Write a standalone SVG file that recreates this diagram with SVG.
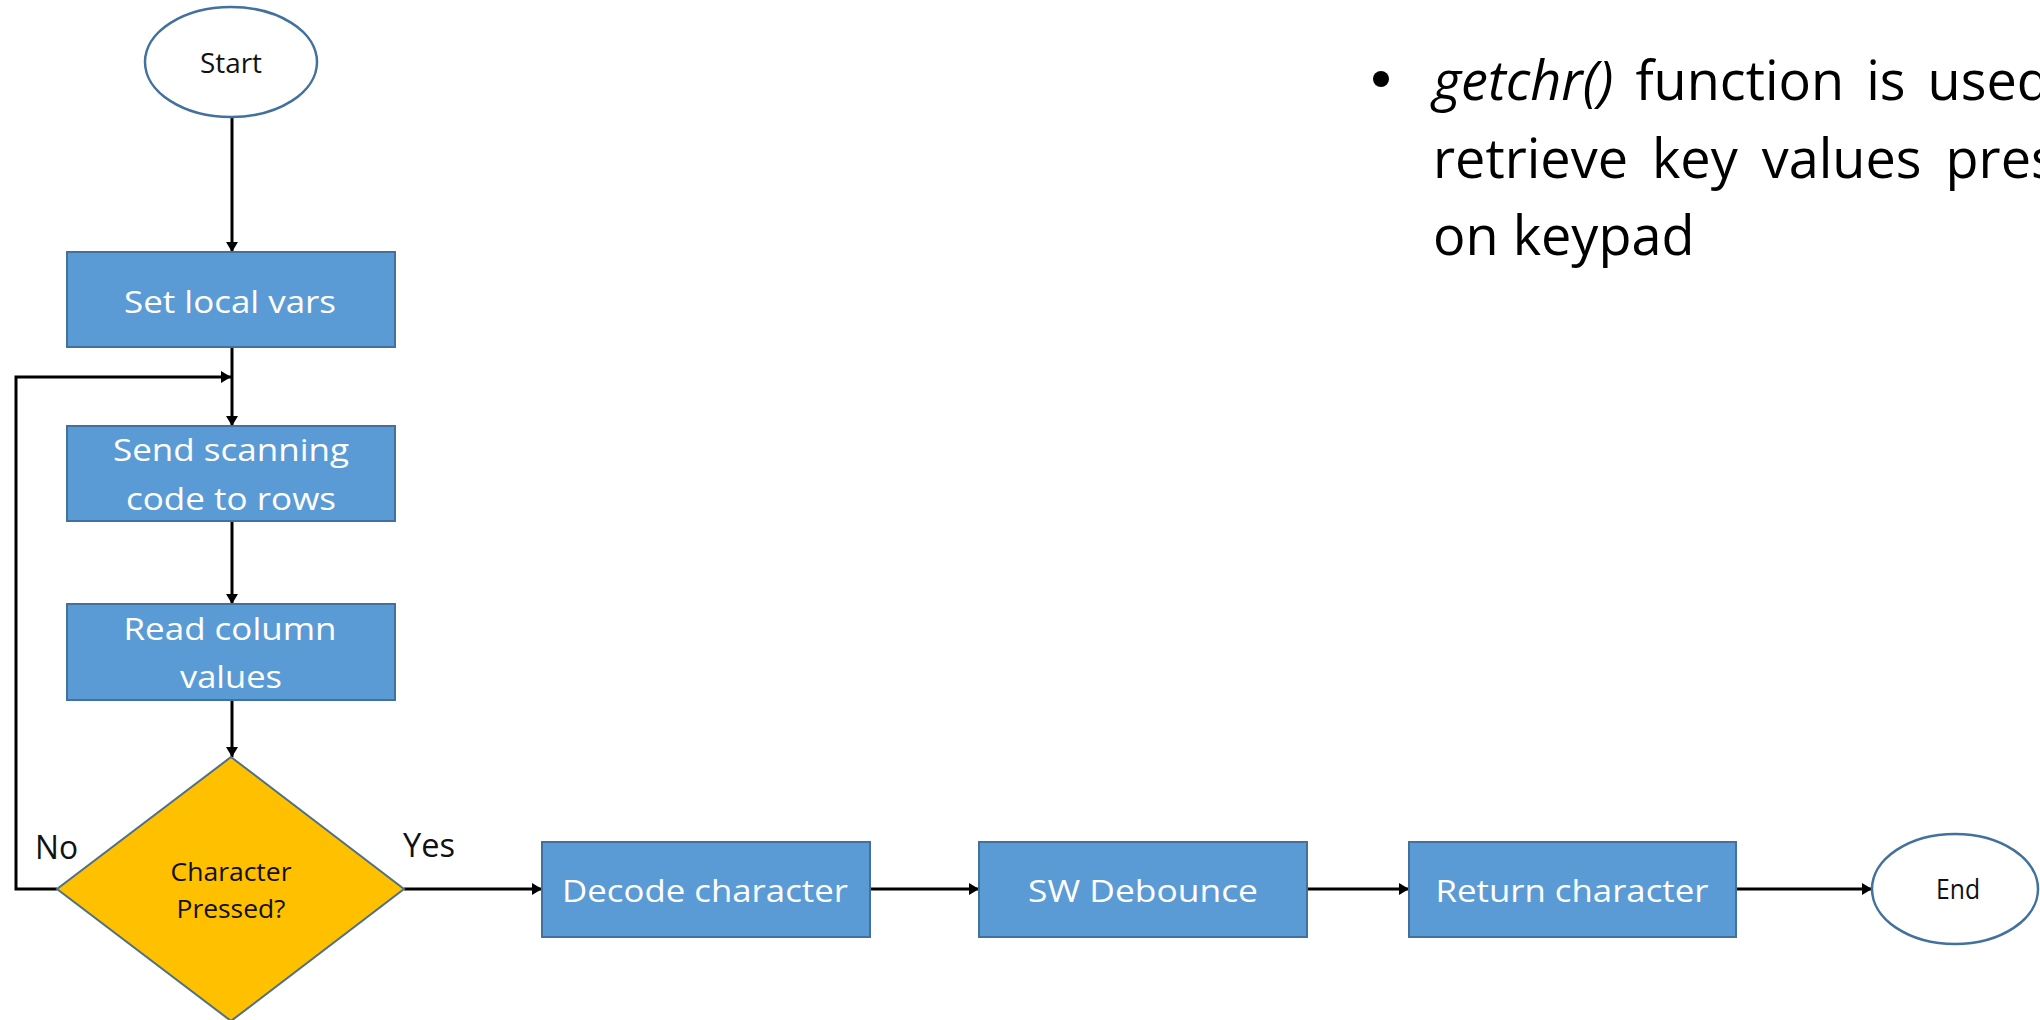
<svg xmlns="http://www.w3.org/2000/svg" width="2040" height="1020" viewBox="0 0 2040 1020">
<style>
  .bg { fill: #ffffff; }
  .term { fill: #ffffff; stroke: #41719C; stroke-width: 2.5; }
  .proc { fill: #5B9BD5; stroke: #41719C; stroke-width: 2; }
  .dec { fill: #FFC000; stroke: #4F7085; stroke-width: 2; }
  .lbl { font-family: "Open Sans", "Liberation Sans", sans-serif; font-size: 31px; fill: #ffffff; text-anchor: middle; }
  .dark { font-family: "Open Sans", "Liberation Sans", sans-serif; fill: #111111; }
  .conn { fill: none; stroke: #000000; stroke-width: 3; }
  .bullet { font-family: "Open Sans", "Liberation Sans", sans-serif; font-size: 54px; fill: #000000; }
</style>
<defs>
  <marker id="arrow" viewBox="0 0 10 12" refX="10" refY="6" markerWidth="10" markerHeight="12" markerUnits="userSpaceOnUse" orient="auto">
    <path d="M0,0 L10,6 L0,12 z" fill="#000000"/>
  </marker>
</defs>
<rect class="bg" x="0" y="0" width="2040" height="1020"/>

<g id="connectors">
  <line class="conn" x1="232" y1="117" x2="232" y2="252" marker-end="url(#arrow)"/>
  <line class="conn" x1="232" y1="347" x2="232" y2="426" marker-end="url(#arrow)"/>
  <polyline class="conn" points="57,889 16,889 16,377 231,377" marker-end="url(#arrow)"/>
  <line class="conn" x1="232" y1="521" x2="232" y2="604" marker-end="url(#arrow)"/>
  <line class="conn" x1="232" y1="700" x2="232" y2="757" marker-end="url(#arrow)"/>
  <line class="conn" x1="404" y1="889" x2="542" y2="889" marker-end="url(#arrow)"/>
  <line class="conn" x1="870" y1="889" x2="979" y2="889" marker-end="url(#arrow)"/>
  <line class="conn" x1="1307" y1="889" x2="1409" y2="889" marker-end="url(#arrow)"/>
  <line class="conn" x1="1736" y1="889" x2="1872" y2="889" marker-end="url(#arrow)"/>
  <text class="dark" x="35" y="859" font-size="32" textLength="43" lengthAdjust="spacingAndGlyphs">No</text>
  <text class="dark" x="403" y="857" font-size="32" textLength="52" lengthAdjust="spacingAndGlyphs">Yes</text>
</g>

<g id="start">
  <ellipse class="term" cx="231" cy="62" rx="86" ry="55"/>
  <text class="dark" x="231" y="73" font-size="27" text-anchor="middle" textLength="62" lengthAdjust="spacingAndGlyphs">Start</text>
</g>

<g id="set-local-vars">
  <rect class="proc" x="67" y="252" width="328" height="95"/>
  <text class="lbl" x="230" y="313" textLength="212" lengthAdjust="spacingAndGlyphs">Set local vars</text>
</g>

<g id="send-scanning">
  <rect class="proc" x="67" y="426" width="328" height="95"/>
  <text class="lbl" x="231" y="461" textLength="236" lengthAdjust="spacingAndGlyphs">Send scanning</text>
  <text class="lbl" x="231" y="510" textLength="210" lengthAdjust="spacingAndGlyphs">code to rows</text>
</g>

<g id="read-column">
  <rect class="proc" x="67" y="604" width="328" height="96"/>
  <text class="lbl" x="230" y="640" textLength="213" lengthAdjust="spacingAndGlyphs">Read column</text>
  <text class="lbl" x="231" y="688" textLength="102" lengthAdjust="spacingAndGlyphs">values</text>
</g>

<g id="character-pressed">
  <polygon class="dec" points="231,757 404,889 231,1021 57,889"/>
  <text class="dark" x="231" y="881" font-size="25" text-anchor="middle" textLength="121" lengthAdjust="spacingAndGlyphs">Character</text>
  <text class="dark" x="231" y="918" font-size="25" text-anchor="middle" textLength="109" lengthAdjust="spacingAndGlyphs">Pressed?</text>
</g>

<g id="decode-character">
  <rect class="proc" x="542" y="842" width="328" height="95"/>
  <text class="lbl" x="705" y="902" textLength="286" lengthAdjust="spacingAndGlyphs">Decode character</text>
</g>

<g id="sw-debounce">
  <rect class="proc" x="979" y="842" width="328" height="95"/>
  <text class="lbl" x="1143" y="902" textLength="230" lengthAdjust="spacingAndGlyphs">SW Debounce</text>
</g>

<g id="return-character">
  <rect class="proc" x="1409" y="842" width="327" height="95"/>
  <text class="lbl" x="1572" y="902" textLength="273" lengthAdjust="spacingAndGlyphs">Return character</text>
</g>

<g id="end">
  <ellipse class="term" cx="1955" cy="889" rx="83" ry="55"/>
  <text class="dark" x="1958" y="899" font-size="27" text-anchor="middle" textLength="44" lengthAdjust="spacingAndGlyphs">End</text>
</g>

<g id="note">
  <circle cx="1381" cy="79" r="8" fill="#000000"/>
  <text class="bullet" x="1433" y="100" word-spacing="8"><tspan font-style="italic">getchr()</tspan> function is used to</text>
  <text class="bullet" x="1433" y="178" word-spacing="10">retrieve key values pressed</text>
  <text class="bullet" x="1433" y="255">on keypad</text>
</g>
</svg>
